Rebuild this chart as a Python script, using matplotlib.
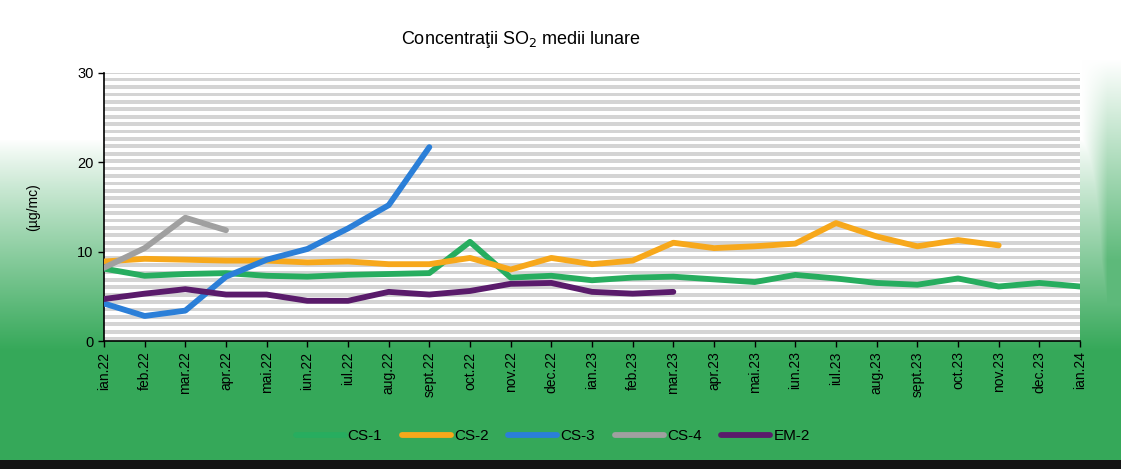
import numpy as np
import matplotlib
matplotlib.use('Agg')
import matplotlib.pyplot as plt

plt.rcParams['font.family'] = ['Liberation Sans', 'DejaVu Sans']

# month labels on the x axis
months = ['ian.22', 'feb.22', 'mar.22', 'apr.22', 'mai.22', 'iun.22', 'iul.22',
          'aug.22', 'sept.22', 'oct.22', 'nov.22', 'dec.22', 'ian.23', 'feb.23',
          'mar.23', 'apr.23', 'mai.23', 'iun.23', 'iul.23', 'aug.23', 'sept.23',
          'oct.23', 'nov.23', 'dec.23', 'ian.24']

# monthly SO2 means (ug/mc)
cs1 = [8.1, 7.3, 7.5, 7.6, 7.3, 7.2, 7.4, 7.5, 7.6, 11.1, 7.1, 7.3, 6.8, 7.1,
       7.2, 6.9, 6.6, 7.4, 7.0, 6.5, 6.3, 7.0, 6.1, 6.5, 6.1]
cs2 = [8.9, 9.2, 9.1, 9.0, 9.0, 8.8, 8.9, 8.6, 8.6, 9.3, 8.0, 9.3, 8.6, 9.0,
       11.0, 10.4, 10.6, 10.9, 13.2, 11.7, 10.6, 11.3, 10.7]
cs3 = [4.2, 2.8, 3.4, 7.2, 9.1, 10.3, 12.6, 15.2, 21.7]
cs4 = [8.2, 10.4, 13.8, 12.4]
em2 = [4.7, 5.3, 5.8, 5.2, 5.2, 4.5, 4.5, 5.5, 5.2, 5.6, 6.4, 6.5, 5.5, 5.3, 5.5]

series = [('CS-1', cs1, '#27ad5f'), ('CS-2', cs2, '#f7a81b'),
          ('CS-3', cs3, '#2b7fd8'), ('CS-4', cs4, '#a0a0a0'),
          ('EM-2', em2, '#5a1b6b')]

fig = plt.figure(figsize=(11.21, 4.69), dpi=100)

# background: white top fading into green at the bottom
bg = fig.add_axes([0, 0, 1, 1], zorder=-10)
H, W = 469, 1121
yy, xx = np.mgrid[0:H, 0:W]
t_v = np.clip((yy - 140) / 210.0, 0, 1) ** 0.9
t_r = np.clip((xx - 1082) / 25.0, 0, 1) * np.clip((yy - 60) / 200.0, 0, 1) * 0.8
t = np.maximum(t_v, t_r)
white = np.array([1.0, 1.0, 1.0])
green = np.array([0.21, 0.66, 0.35])
img = white[None, None, :] * (1 - t[..., None]) + green[None, None, :] * t[..., None]
img[460:, :, :] = 0.08
bg.imshow(img, aspect='auto', extent=[0, 1, 0, 1], origin='upper')
bg.axis('off')

ax = fig.add_axes([104 / W, 1 - 341 / H, 976 / W, 268 / H])
ax.set_facecolor('white')
# grey striped plot area
for v in np.arange(0, 30, 0.83):
    ax.axhspan(v, v + 0.42, color='#d4d4d4', lw=0, zorder=0)

x = np.arange(len(months))
for name, vals, col in series:
    ax.plot(x[:len(vals)], vals, color=col, lw=4.2, label=name,
            solid_capstyle='round', solid_joinstyle='round', zorder=3)

ax.set_xlim(0, len(months) - 1)
ax.set_ylim(0, 30)
ax.set_yticks([0, 10, 20, 30])
ax.set_xticks(x)
ax.set_xticklabels(months, rotation=90, fontsize=10)
ax.tick_params(axis='y', labelsize=10.5, length=4, width=1)
ax.tick_params(axis='x', length=4, width=1)
for s in ['top', 'right']:
    ax.spines[s].set_visible(False)
ax.spines['left'].set_linewidth(1.2)
ax.spines['bottom'].set_linewidth(1.2)
ax.set_ylabel('(µg/mc)', fontsize=10, labelpad=27)

fig.text(0.465, 0.915, 'Concentraţii SO$_2$ medii lunare', ha='center',
         va='center', fontsize=13)

fig.legend(loc='center', bbox_to_anchor=(0.493, 0.07), ncol=5, frameon=False,
           fontsize=11, handlelength=3.2, handletextpad=0.2, columnspacing=1.3)

fig.savefig('out.png', dpi=100)
